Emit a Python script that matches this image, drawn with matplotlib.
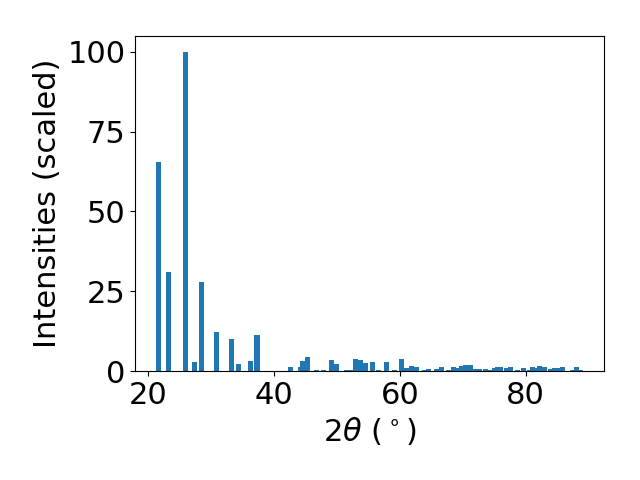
import matplotlib
matplotlib.use("Agg")
import matplotlib.pyplot as plt

# peak positions (2theta, deg) and scaled intensities
two_theta = [21.7, 23.3, 26.0, 27.4, 28.5, 30.9, 33.2, 34.3, 36.2, 37.3,
             42.7, 44.2, 44.6, 45.4, 46.8, 47.8, 49.2, 50.0, 51.6, 52.3,
             53.0, 53.8, 54.6, 55.7, 56.6, 57.9, 59.2, 60.2, 61.0, 61.9,
             62.7, 63.9, 64.6, 65.9, 66.7, 67.8, 68.6, 69.3, 69.8, 70.4,
             71.3, 72.1, 72.6, 73.7, 74.5, 75.0, 75.6, 76.0, 76.9, 77.65,
             78.7, 79.7, 80.6, 81.15, 81.8, 82.25, 83.05, 84.0, 84.65, 85.3,
             85.9, 87.4, 88.1, 88.7]
intensity = [65.6, 31.1, 100.0, 2.8, 27.9, 12.2, 10.0, 2.2, 3.1, 11.3,
             1.2, 1.2, 3.1, 4.4, 0.3, 0.3, 3.45, 2.2, 0.3, 0.3,
             3.8, 3.45, 2.5, 2.8, 0.3, 2.8, 0.3, 3.8, 0.95, 1.6,
             1.26, 0.3, 0.6, 0.6, 1.26, 0.3, 1.26, 0.95, 1.6, 1.9,
             1.9, 0.6, 0.6, 0.6, 0.3, 0.95, 1.26, 1.26, 0.95, 1.26,
             0.3, 0.95, 0.3, 1.26, 0.95, 1.6, 1.26, 0.6, 0.95, 0.95,
             1.26, 0.3, 1.26, 0.3]

fig, ax = plt.subplots(figsize=(6.4, 4.8), dpi=100)
ax.bar(two_theta, intensity, width=0.8, color='#1f77b4')

ax.set_xlabel(r'2$\theta$ ($^\circ$)', fontsize=22)
ax.set_ylabel('Intensities (scaled)', fontsize=22)
ax.tick_params(labelsize=22)
ax.set_xticks([20, 40, 60, 80])
ax.set_yticks([0, 25, 50, 75, 100])

fig.subplots_adjust(left=0.211, right=0.944, top=0.925, bottom=0.227)
fig.savefig('out.png')
